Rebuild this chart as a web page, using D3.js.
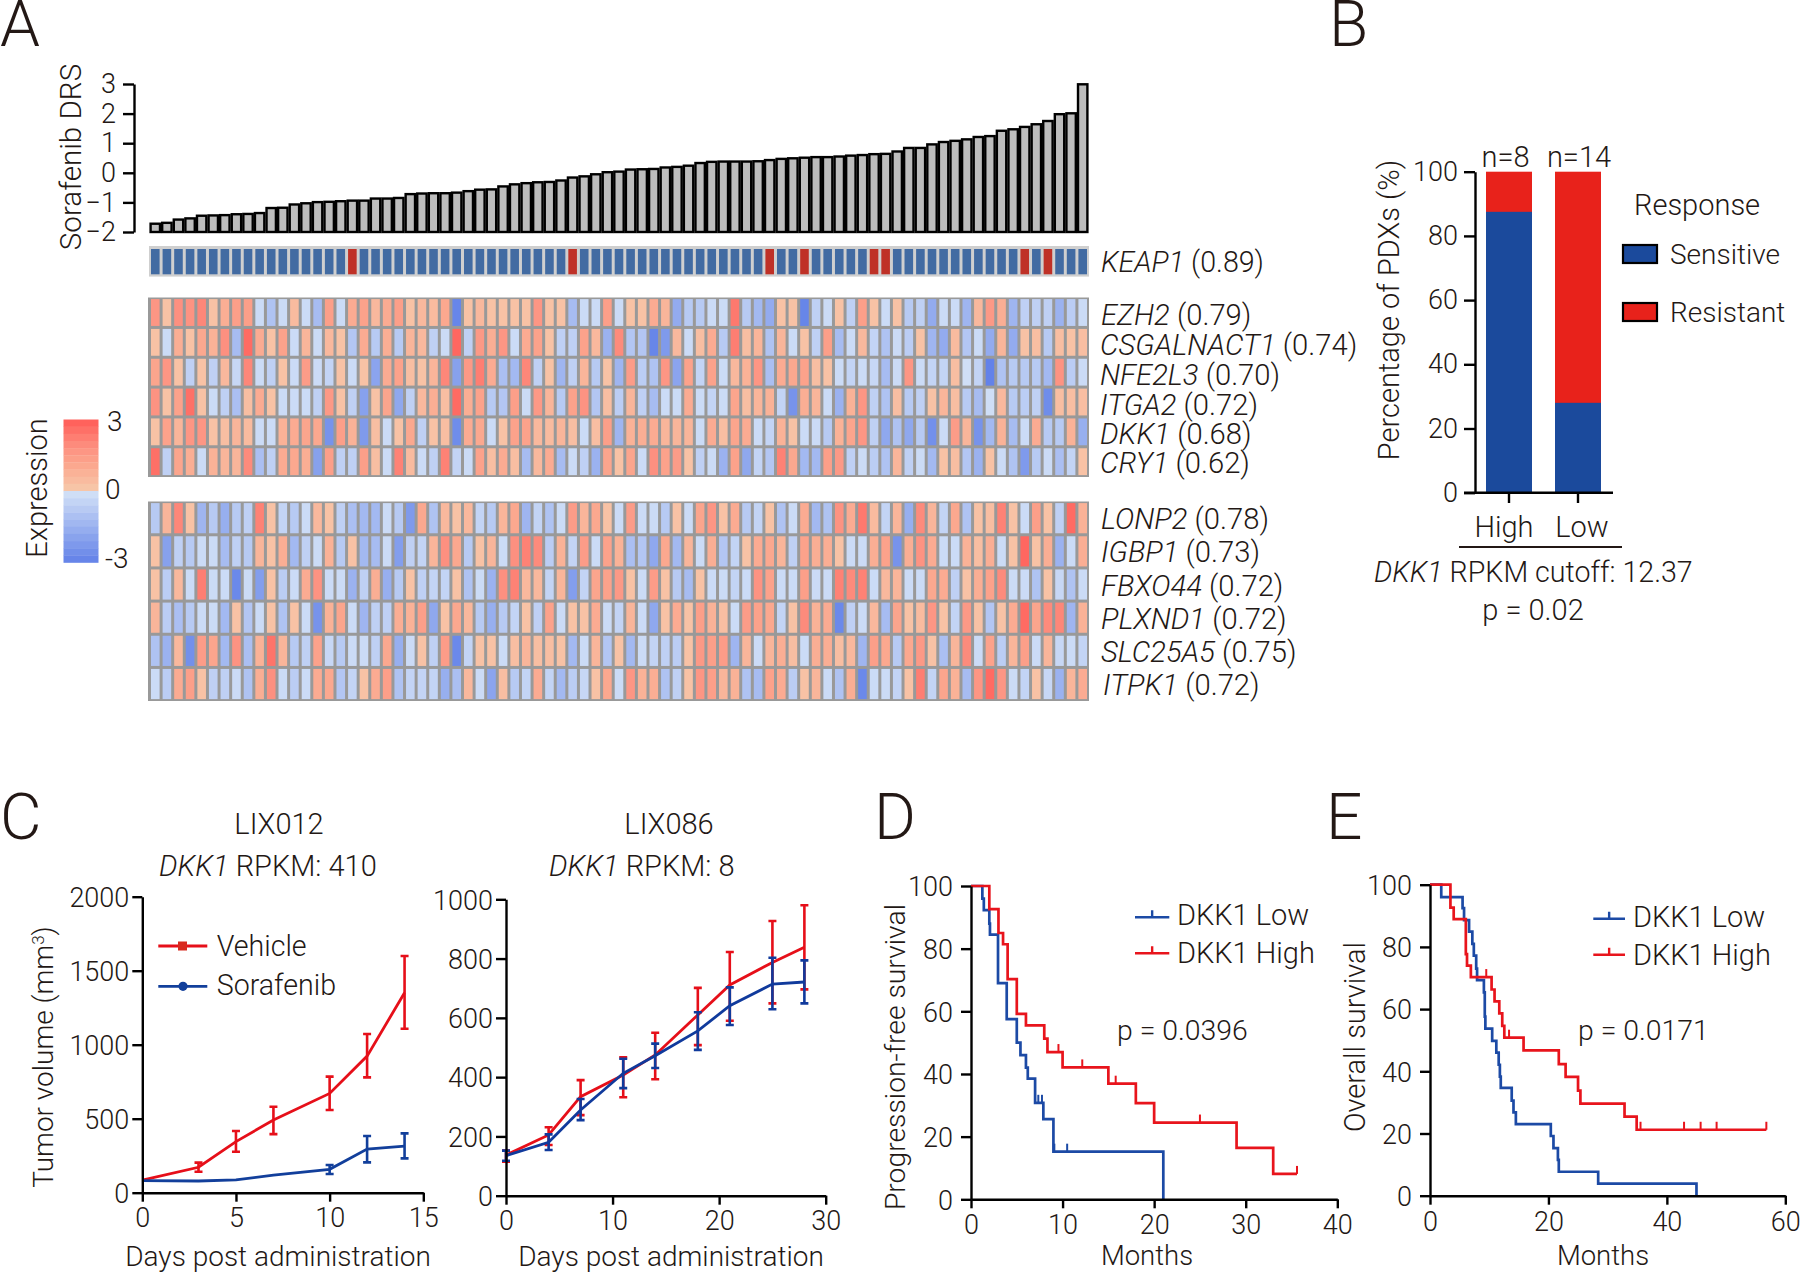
<!DOCTYPE html>
<html><head><meta charset="utf-8">
<script src="https://cdnjs.cloudflare.com/ajax/libs/d3/7.8.5/d3.min.js"></script>
<style>
html,body{margin:0;padding:0;background:#fff}
svg{display:block}
text{font-family:Roboto,"Liberation Sans",sans-serif;font-weight:300;fill:#231815}
</style></head><body>
<svg id="c" width="1800" height="1273"></svg>
<script>
// ---------- Panel A data ----------
const drs = [-1.72,-1.69,-1.58,-1.54,-1.45,-1.44,-1.43,-1.40,-1.39,-1.36,-1.19,-1.18,-1.07,-1.03,-.99,-.98,-.96,-.94,-.94,-.87,-.87,-.85,-.72,-.70,-.69,-.69,-.67,-.62,-.57,-.56,-.46,-.39,-.35,-.32,-.31,-.26,-.16,-.12,-.05,.02,.04,.11,.12,.13,.18,.20,.24,.33,.37,.38,.38,.38,.39,.43,.47,.49,.51,.53,.53,.55,.58,.60,.63,.64,.72,.84,.84,.96,1.04,1.08,1.13,1.21,1.24,1.42,1.47,1.55,1.64,1.75,1.98,2.01,2.99];
const keap1Mutated = [17,36,53,56,62,63,75,77];
const EZH2 = [1.8,.4,2,1.9,2.2,.4,1,1.5,1.5,-.3,-1,-.3,.6,-.3,-1.2,1.5,-.3,1.1,1.4,.7,1.1,1.5,.4,.7,.6,1.2,-2.8,.4,.7,.4,.4,.4,.4,1.8,.4,.4,-1.2,-.3,-.3,1.5,-.3,.4,.4,1.1,.8,-1.7,-.8,-.8,-.3,-.3,2.5,-.8,-1.3,-1.7,.4,.4,-2.8,-.6,-.3,.4,-.6,1.5,.4,-.3,.4,-.8,-.6,-1.7,-.3,-.3,-1.4,.7,1.7,1,-1.4,-.6,-.6,-.6,-1.5,-.7,-.3];
const CSGALNACT1 = [.4,-.3,1,.4,1.2,.9,2,-1.2,2.8,1.1,.4,1.4,-.3,.8,-.3,.7,.4,-.9,1.1,-.8,1,-.8,.8,.7,-.6,-.3,2.9,-.6,1.7,1,1.8,-.3,1.1,1.4,.4,-.6,-.6,1.4,.7,-1.5,2.1,-.9,-.9,-2.8,-2.2,.7,-.3,.5,1.1,-.8,2.4,.5,.8,-1,.8,-.3,.4,-.6,1.5,-1.2,-.3,.7,-.5,-1,-.3,-.7,.4,-1.4,-1.7,.6,-.9,-.3,-1.7,.8,-1.7,.4,.5,-.8,.5,.4,.5];
const NFE2L3 = [1.3,1.8,.4,-.6,.4,-.6,.7,-.4,2.2,-.3,-.6,.4,-.3,1.6,-.3,-.5,.4,-.3,.4,-1.9,1.1,1.4,.5,.4,.8,2.2,-2,1.7,2.4,1.1,-1.1,-1.3,2.2,-.6,.4,-1.4,-.6,.8,-.8,.4,-1.4,1.6,-.7,-1,1.8,-1.9,1.4,-.5,1.4,-.3,.7,.9,1.8,-1.1,1.1,1.2,1.4,.5,.4,-.3,-.5,-.3,-.4,-1.2,-.3,1.8,-.3,-.5,-.5,.5,-.2,-.5,-2.9,-1,-.8,-.8,-.8,-1.3,1.9,-.7,-.3];
const ITGA2 = [1.9,.4,1.4,2.7,.4,-.3,-.6,-1.1,.5,1.1,.4,-.3,-.3,-.3,-.6,1.7,.4,-.6,-2,.4,1.3,-1.8,-.6,.7,1,.5,2.8,1,1.4,-.8,-.9,1.5,-.3,1.7,.8,-.8,1.4,1.9,-.9,.5,-.7,.8,-.6,-1.2,-.3,-.3,1.1,-.3,-.5,-.3,1.3,.5,.8,.9,-.5,-2.4,1,.8,-.3,-1.5,.9,1.8,-.6,-1,.5,-.8,-.6,.4,.8,.5,-.8,-1.2,-.2,.7,-.8,-.7,-.6,-2.6,.5,.5,.5];
const DKK1 = [.4,1.4,.8,1.8,1.8,.4,.5,.8,.6,-.3,-.3,.9,1.1,1.3,1.2,-2.4,1.5,.9,-2.2,.5,-.3,.4,1.2,-.6,.4,.5,-2.6,1.1,1.2,-.3,.4,1.4,1.4,.7,.6,.8,.5,-.3,.5,1.5,-1.4,.9,1,1.1,.8,.8,.8,-.3,1.1,.5,1.3,1.1,-.3,-.5,.9,.4,-.3,-.3,-.8,.9,1.3,1.8,-.6,-1.8,-1,-1.8,-.8,-2.5,-.3,1.6,.8,-2.4,-1.3,.9,-1.2,-.3,1.1,-.8,-.8,.9,-1.6];
const CRY1 = [2.7,-.6,1.3,1,-.3,.9,.8,.8,2.1,-1.1,-.6,1.1,1.2,1,-2,1.5,-.6,-.6,1.5,.5,-.3,2.3,.6,-.3,-.6,2.3,-.5,-.3,1.4,.5,1.1,.5,-1.2,.7,1.1,-1.2,-.3,-.6,-1.5,1.3,.4,1.3,-.3,2,1.4,1.6,.4,-.6,-.3,-1.5,1.4,-1.8,-.5,-.9,2.3,1.2,-1.3,-1.3,1.5,1.7,-.6,-.3,-.7,-1,.8,-.6,-.3,-1.3,.4,.5,-.9,-1.5,.4,-.3,-1,-2.2,-.8,-.3,-1.1,-.5,.4];
const LONP2 = [-.8,.8,2.2,.4,-1.4,-.8,-1.6,-.8,-.6,2.3,.4,-.5,-.8,-.3,.7,.4,-.6,-1.1,-1.3,-1.3,-.3,-.8,-2.2,1.2,-1,.7,.4,.7,-.5,-.8,.8,1.2,-1.4,-.5,-1,-.3,1.6,.8,1.2,.4,-.3,1.6,-.3,-.3,-.8,.4,-.3,1.3,1.8,.4,1.1,-.8,-.5,.4,-1,-.3,1.1,-1.3,-1,1.9,1.1,2.5,.6,-.5,.8,-1.6,2.1,.8,-.5,1.2,-1,.4,.5,2.3,.4,-.3,1.5,.4,-.6,2.8,.9];
const IGBP1 = [.4,-2,-.6,-.8,-.3,-.3,-1.2,-.6,-.8,.8,.4,1,-1.3,-.6,-.3,.9,-.8,.4,-1.3,-1.2,-.3,-2.1,-.6,-.5,.8,2,1.2,-.8,.4,.8,-.3,2,2.3,2.1,-.7,.9,-.5,1.6,-.3,1.4,.9,-1.1,-.9,-1.8,1.2,-1.3,.8,-.3,1,-.9,-.5,.4,1.1,1.2,.8,-.6,1.4,1,1,.4,-.3,-.3,1,1.4,-2.4,1,1.9,1.1,-.3,-.3,.9,.5,1,-.3,.4,2.9,.4,1,-1.5,-.3,1];
const FBXO44 = [.4,-.7,.7,-.3,2.4,-.3,-.3,-2.7,-.3,-2.1,.4,-.7,-.3,1.1,1.9,-.3,-.3,-1.5,-.6,1,-1.6,-.8,.4,-.6,-.5,-.5,.4,-1,-.3,-1.5,2,2.3,.7,.7,-.5,.8,-2.1,-.5,1.3,1.4,1.7,.4,-.3,1.6,.4,-.8,-1.2,.4,-.3,-.3,-.5,-.3,1.9,1.4,-.3,-.3,1.5,-.3,-.3,2.3,2.1,2.3,-.3,.7,.8,-.3,-.3,1.2,1.1,-.6,.4,1,1.4,2.1,-.3,-.3,-1,.4,-.4,-1,-.3];
const PLXND1 = [.8,-.7,-1.1,-.8,-.3,-.3,-1.3,.4,-.9,-.3,.4,-1,.4,-.3,-2.4,.9,1.3,-.3,-1.4,-.6,-.6,1,.9,1.5,-1.8,.4,1.2,.7,-.8,-1.6,-.8,-.5,.4,-.6,1.4,-.3,.4,.4,1.1,-.3,-.5,.8,-.3,-1.8,.4,1.1,.4,1.5,.9,.5,-.3,1.6,1.4,1.2,-.5,.4,2.1,.9,1.1,-2.7,-.6,-.3,.7,-1.2,1.3,.4,.6,1.8,.4,-.5,1.7,.4,-.9,.4,1.1,2.8,1.3,2.1,2.2,-1.4,.9];
const SLC25A5 = [-1,-1.5,.7,-2.5,1.6,1.3,-1.3,1.9,-1.1,.9,2.6,.8,-.8,-.6,1.4,-.4,-.8,-.3,-.3,-.6,1.2,-1.6,-.3,.4,-.6,1.6,-2.7,-.5,.4,.4,-.3,.5,.8,.5,.5,.4,-1.3,-.3,.8,-.9,.4,-1.3,-.3,-.5,-.6,-.7,.4,1.7,1.5,1.6,-1.4,.8,-.3,.8,1,.5,-.3,1,1,.5,.7,-1.4,1.5,1.2,-.8,1.2,1.7,.4,-1.1,.8,2.1,-.3,1.4,-.7,.8,1.5,-.3,.8,-.4,-.3,-.5];
const ITPK1 = [-.3,-.7,1.1,1.5,.4,-.6,-.6,-.3,-1,1,2,-.3,-.7,-.3,1.1,1.2,-.9,-.5,.4,1.1,1.5,-1,-.5,-.5,-.5,-1.6,-1.1,.7,-.3,-1.9,.5,-.8,-.5,1.1,-.5,-1.3,-.7,-.4,.4,1.2,-.3,1.8,.9,1,-1,-.6,.4,1.8,1.5,.8,.9,-1,-1.2,1.4,1.1,-.7,.4,.8,-.3,-1,1,-2.7,-.3,-.3,-.5,.4,2.4,-.5,1.3,.9,-1.2,1.8,2.8,1.8,-.3,-.5,.4,-.4,-1.5,.8,1.1];
const upperGenes = [["EZH2",EZH2,"0.79"],["CSGALNACT1",CSGALNACT1,"0.74"],["NFE2L3",NFE2L3,"0.70"],["ITGA2",ITGA2,"0.72"],["DKK1",DKK1,"0.68"],["CRY1",CRY1,"0.62"]];
const lowerGenes = [["LONP2",LONP2,"0.78"],["IGBP1",IGBP1,"0.73"],["FBXO44",FBXO44,"0.72"],["PLXND1",PLXND1,"0.72"],["SLC25A5",SLC25A5,"0.75"],["ITPK1",ITPK1,"0.72"]];
// ---------- Panel B data ----------
const pdxGroups = ["High","Low"];
const pdxN = ["n=8","n=14"];
const pdxSensitive = [87.5,28];
// ---------- Panel C data ----------
const lix012Vehicle = [[0,85],[3,172,142,203],[5,345,277,417],[7,491,396,581],[10,671,559,784],[12,923,779,1072],[14,1351,1108,1599]];
const lix012Sorafenib = [[0,81],[3,79],[5,86],[7,119],[10,158,126,187],[12,295,205,383],[14,315,232,401]];
const lix086Vehicle = [[0,137,115,152],[4,205,171,231],[7,334,272,390],[11,407,332,467],[14,475,393,550],[18,610,508,701],[21,711,590,822],[25,787,649,927],[28,838,696,980]];
const lix086Sorafenib = [[0,135,118,152],[4,180,154,207],[7,289,255,326],[11,413,363,462],[14,472,431,513],[18,556,492,619],[21,641,576,703],[25,714,629,803],[28,721,649,794]];
// ---------- Panel D data ----------
const pfsLow = [[0,100],[1.24,96],[1.4,92.3],[2,88],[2.07,84.5],[2.95,69],[3.9,57.5],[5,50],[5.4,46],[6,42],[6.2,38.5],[7,30.8],[7.9,25.6],[9,15.2],[21,0],[21,0]];
const pfsHigh = [[0,100],[2,92.6],[3,85],[3.5,81.4],[4,70.3],[5,59.2],[6,55.5],[8,51.3],[8.35,47],[10,42.1],[15,36.9],[18,30.7],[20,24.5],[29,16.4],[33,8.1],[35.6,8.1]];
const pfsLowCensor = [[7.35,30.8],[7.75,30.8],[9.1,15.2],[10.5,15.2]];
const pfsHighCensor = [[9.55,47],[12.15,42.1],[15.8,36.9],[25,24.5],[35.6,8.1]];
// ---------- Panel E data ----------
const osLow = [[0,100],[1.9,96],[5.5,92.5],[5.75,88.6],[6.6,84.9],[7.15,81],[7.4,77.2],[7.8,73],[7.95,69.3],[9.1,65.4],[9.25,57.6],[9.35,53.7],[10.5,49.8],[11.2,46],[11.6,42.1],[11.8,38.3],[11.95,34.7],[13.8,30.6],[14.1,26.8],[14.5,23],[20.4,19.2],[20.85,15.3],[21.6,11.5],[21.75,7.7],[28.4,3.9],[45,0],[45,0]];
const osHigh = [[0,100],[3.45,92.6],[4,88.9],[6.05,77.7],[6.25,74],[6.9,70.3],[10.4,66.3],[10.9,62.5],[11.7,58.6],[12.2,54.6],[12.55,50.8],[15.8,46.7],[21.75,42.3],[22.9,38.2],[25,33.8],[25.4,29.6],[32.85,25.4],[34.9,21.2],[56.8,21.2]];
const osHighCensor = [[9.5,70.3],[13.35,50.8],[35.55,21.2],[42.9,21.2],[45.7,21.2],[48.4,21.2],[56.8,21.2]];

// ---------- Drawing ----------
const svg = d3.select("#c");
const FS = 29, TICK = 27, RED = "#e60f19", BLUE = "#123f9b", BLK = "#000";
function txt(x,y,s,o={}){
  const t = svg.append("text").attr("x",x).attr("y",y).attr("font-size",o.size||FS).text(s);
  if(o.anchor) t.attr("text-anchor",o.anchor);
  if(o.rot!==undefined) t.attr("transform",`rotate(${o.rot} ${x} ${y})`);
  return t;
}
function ital(x,y,it,rest,o={}){
  const t = svg.append("text").attr("x",x).attr("y",y).attr("font-size",o.size||FS);
  if(o.anchor) t.attr("text-anchor",o.anchor);
  t.append("tspan").attr("font-style","italic").text(it);
  t.append("tspan").text(rest);
  return t;
}
function styleAxis(g,fs){
  g.selectAll(".domain").attr("stroke",BLK).attr("stroke-width",2.4);
  g.selectAll(".tick line").attr("stroke",BLK).attr("stroke-width",2.4);
  g.selectAll("text").attr("font-size",fs||TICK).attr("fill","#231815");
}
function axes(xs,ys,xticks,yticks,xlen,ylen,pad){
  const [x0]=xs.range(), [y0]=ys.range();
  const gy = svg.append("g").attr("transform",`translate(${x0},0)`).call(d3.axisLeft(ys).tickValues(yticks).tickSize(ylen).tickSizeOuter(0).tickPadding(pad?pad[1]:3).tickFormat(d3.format("d")));
  const gx = svg.append("g").attr("transform",`translate(0,${y0})`).call(d3.axisBottom(xs).tickValues(xticks).tickSize(xlen).tickSizeOuter(0).tickPadding(pad?pad[0]:6).tickFormat(d3.format("d")));
  styleAxis(gy); styleAxis(gx);
  gy.selectAll(".tick text").attr("dy",".36em");
  return [gx,gy];
}

// Panel letters
[["A",0,46],["B",1329,46],["C",0,839],["D",874,839],["E",1326,839]].forEach(d=>txt(d[1],d[2],d[0],{size:64}));

// Panel A: bars
const nCols = drs.length;
const xA = d3.scaleBand().domain(d3.range(nCols)).range([149.5,1088.5]);
const yA = d3.scaleLinear().domain([-2,3]).range([232,84]);
svg.append("g").selectAll("rect").data(drs).join("rect")
  .attr("x",(d,i)=>xA(i)+1.1).attr("width",xA.bandwidth()-2.2)
  .attr("y",d=>yA(d)).attr("height",d=>yA(-2)-yA(d))
  .attr("fill","#bdbdbd").attr("stroke","#000").attr("stroke-width",2.4);
const gA = svg.append("g").attr("transform","translate(134,0)").call(d3.axisLeft(yA).tickValues([-2,-1,0,1,2,3]).tickSize(11).tickSizeOuter(0).tickPadding(7).tickFormat(d3.format("d")));
styleAxis(gA);
txt(81,157,"Sorafenib DRS",{rot:-90,anchor:"middle",size:29.6});

// KEAP1 strip
svg.append("rect").attr("x",149).attr("y",246).attr("width",940).attr("height",30.6).attr("fill","#cfcfcf");
svg.append("g").selectAll("rect").data(drs).join("rect")
  .attr("x",(d,i)=>xA(i)+1.5).attr("width",xA.bandwidth()-3).attr("y",249).attr("height",25.3)
  .attr("fill",(d,i)=>keap1Mutated.includes(i)?"#bf3127":"#426ba2");
ital(1101,272,"KEAP1"," (0.89)",{size:28.6});

// Heatmaps
const color = d3.scaleLinear().domain([-3,-.2,.2,1.2,2,3]).range(["#5f7fe8","#cfdef6","#f7c8aa","#fba88f","#fd9080","#ff625c"]);
function heat(genes,y0,y1,labelY,labelX){
  const yH = d3.scaleBand().domain(genes.map(g=>g[0])).range([y0,y1]);
  svg.append("rect").attr("x",148).attr("y",y0).attr("width",941).attr("height",y1-y0+.5).attr("fill","#999");
  genes.forEach((g,gi)=>{
    svg.append("g").selectAll("rect").data(g[1]).join("rect")
      .attr("x",(d,i)=>xA(i)+1.5).attr("width",xA.bandwidth()-3)
      .attr("y",yH(g[0])+1.6).attr("height",yH.bandwidth()-3)
      .attr("fill",d=>color(d));
    ital(labelX[gi]||1101,labelY[gi],g[0]," ("+g[2]+")",{size:29.2});
  });
}
heat(upperGenes,297.5,476.5,[325,355,385,415,444,473],[1101,1100,1100,1100,1100,1100]);
heat(lowerGenes,501.5,700.5,[529,562,596,629,662,695],[1101,1101,1101,1101,1101,1103]);

// Colour bar
const cbBands = d3.range(20);
const yCb = d3.scaleBand().domain(cbBands).range([419.5,562.5]);
svg.append("g").selectAll("rect").data(cbBands).join("rect")
  .attr("x",63.5).attr("width",35).attr("y",d=>yCb(d)).attr("height",yCb.bandwidth()+.3)
  .attr("fill",d=>color(d<10?3-d*.3:-.2-(d-10)*.29));
txt(107,431,"3",{size:28});txt(105,499,"0",{size:28});txt(105,568,"-3",{size:28});
txt(47,488,"Expression",{rot:-90,anchor:"middle"});

// Panel B
const xBpos = d3.scalePoint().domain(pdxGroups).range([1509,1578]);
const yB = d3.scaleLinear().domain([0,100]).range([492.7,171.7]);
svg.append("g").selectAll("rect").data(pdxGroups).join("rect").attr("x",d=>xBpos(d)-23).attr("width",46)
  .attr("y",yB(100)).attr("height",yB(0)-yB(100)).attr("fill","#e8221b");
svg.append("g").selectAll("rect").data(pdxGroups).join("rect").attr("x",d=>xBpos(d)-23).attr("width",46)
  .attr("y",(d,i)=>yB(pdxSensitive[i])).attr("height",(d,i)=>yB(0)-yB(pdxSensitive[i])).attr("fill","#1b4a9c");
const gBy = svg.append("g").attr("transform","translate(1475,0)").call(d3.axisLeft(yB).tickValues([0,20,40,60,80,100]).tickSize(11).tickSizeOuter(0).tickPadding(6));
styleAxis(gBy);
svg.append("path").attr("d","M1464,492.7H1613").attr("stroke",BLK).attr("stroke-width",2.4);
svg.append("g").selectAll("line").data(pdxGroups).join("line").attr("x1",d=>xBpos(d)).attr("x2",d=>xBpos(d)).attr("y1",492.7).attr("y2",503).attr("stroke",BLK).attr("stroke-width",2.4);
txt(1505.5,167,pdxN[0],{anchor:"middle"});txt(1579,167,pdxN[1],{anchor:"middle"});
txt(1504,537,"High",{anchor:"middle"});txt(1582,537,"Low",{anchor:"middle"});
svg.append("path").attr("d","M1459,547H1622").attr("stroke","#231815").attr("stroke-width",2);
ital(1374,582,"DKK1"," RPKM cutoff: 12.37",{size:28.6});
txt(1533,620,"p = 0.02",{anchor:"middle"});
txt(1399,310,"Percentage of PDXs (%)",{rot:-90,anchor:"middle"});
txt(1634,215,"Response");
[["Sensitive","#1b4a9c",244,264],["Resistant","#e8221b",302,322]].forEach(d=>{
  svg.append("rect").attr("x",1623).attr("y",d[2]+1).attr("width",34).attr("height",18).attr("fill",d[1]).attr("stroke","#000").attr("stroke-width",2.2);
  txt(1670,d[3],d[0],{size:28});
});

// Panel C
function growth(xs,ys,sets){
  sets.forEach(([data,col])=>{
    const line = d3.line().x(d=>xs(d[0])).y(d=>ys(d[1]));
    svg.append("path").attr("d",line(data)).attr("fill","none").attr("stroke",col).attr("stroke-width",2.8);
    const e = svg.append("g").attr("stroke",col).attr("stroke-width",2.6).attr("fill","none");
    data.filter(d=>d.length>2).forEach(d=>{
      const x=xs(d[0]);
      e.append("path").attr("d",`M${x},${ys(d[2])}V${ys(d[3])}M${x-4},${ys(d[2])}H${x+4}M${x-4},${ys(d[3])}H${x+4}`);
    });
  });
}
const xC1 = d3.scaleLinear().domain([0,15]).range([142.3,423.3]);
const yC1 = d3.scaleLinear().domain([0,2000]).range([1192.7,896.7]);
growth(xC1,yC1,[[lix012Vehicle,RED],[lix012Sorafenib,BLUE]]);
axes(xC1,yC1,[0,5,10,15],[0,500,1000,1500,2000],9,10,[6,3]);
txt(279,834,"LIX012",{anchor:"middle"});
ital(159,875.5,"DKK1"," RPKM: 410");
txt(278,1266,"Days post administration",{anchor:"middle",size:28});
const tv = txt(53,1057,"",{rot:-90,anchor:"middle",size:28});
tv.append("tspan").text("Tumor volume (mm");
tv.append("tspan").attr("font-size",17).attr("dy",-9).text("3");
tv.append("tspan").attr("dy",9).text(")");
svg.append("path").attr("d","M158.3,946H207.3").attr("stroke",RED).attr("stroke-width",2.8);
svg.append("rect").attr("x",178).attr("y",941.5).attr("width",9).attr("height",9).attr("fill","#d82a1e");
txt(216.7,955.5,"Vehicle",{size:28.6});
svg.append("path").attr("d","M158.3,986.3H207.3").attr("stroke",BLUE).attr("stroke-width",2.8);
svg.append("circle").attr("cx",183).attr("cy",986.3).attr("r",4.6).attr("fill",BLUE);
txt(216.7,994.5,"Sorafenib",{size:28.6});

const xC2 = d3.scaleLinear().domain([0,30]).range([506,825.7]);
const yC2 = d3.scaleLinear().domain([0,1000]).range([1195.7,899.3]);
growth(xC2,yC2,[[lix086Vehicle,RED],[lix086Sorafenib,"#103a9c"]]);
axes(xC2,yC2,[0,10,20,30],[0,200,400,600,800,1000],9,10,[6,3]);
txt(669,834,"LIX086",{anchor:"middle"});
ital(549,875.5,"DKK1"," RPKM: 8");
txt(671,1266,"Days post administration",{anchor:"middle",size:28});

// Panels D, E
function km(xs,ys,sets){
  sets.forEach(([data,cens,col])=>{
    svg.append("path").attr("d",d3.line().x(d=>xs(d[0])).y(d=>ys(d[1])).curve(d3.curveStepAfter)(data))
      .attr("fill","none").attr("stroke",col).attr("stroke-width",2.7);
    svg.append("g").selectAll("line").data(cens).join("line")
      .attr("x1",d=>xs(d[0])).attr("x2",d=>xs(d[0])).attr("y1",d=>ys(d[1])).attr("y2",d=>ys(d[1])-8)
      .attr("stroke",col).attr("stroke-width",2);
  });
}
function kmLegend(x1,x2,xl,y1,y2){
  [["DKK1 Low","#1c4aa5",y1,8],["DKK1 High","#e8141c",y2,10]].forEach(d=>{
    svg.append("path").attr("d",`M${x1},${d[2]}H${x2}M${(x1+x2)/2},${d[2]}v-7`).attr("stroke",d[1]).attr("stroke-width",2.4).attr("fill","none");
    txt(xl,d[2]+d[3],d[0]);
  });
}
const xD = d3.scaleLinear().domain([0,40]).range([971,1337.3]);
const yD = d3.scaleLinear().domain([0,100]).range([1199.3,886]);
km(xD,yD,[[pfsLow,pfsLowCensor,"#1c4aa5"],[pfsHigh,pfsHighCensor,"#e8141c"]]);
axes(xD,yD,[0,10,20,30,40],[0,20,40,60,80,100],9,10,[7,8]);
kmLegend(1135,1169.3,1177,917.3,953.3);
txt(1117,1040,"p = 0.0396",{size:28.4});
txt(905,1057,"Progression-free survival",{rot:-90,anchor:"middle",size:28.3});
txt(1147,1265,"Months",{anchor:"middle",size:27.5});

const xE = d3.scaleLinear().domain([0,60]).range([1430,1785.3]);
const yE = d3.scaleLinear().domain([0,100]).range([1195.7,884.7]);
km(xE,yE,[[osLow,[],"#1c4aa5"],[osHigh,osHighCensor,"#e8141c"]]);
axes(xE,yE,[0,20,40,60],[0,20,40,60,80,100],9,10,[7,8]);
kmLegend(1593.3,1625,1633,918.7,954.7);
txt(1578,1040,"p = 0.0171",{size:28.4});
txt(1365,1037,"Overall survival",{rot:-90,anchor:"middle"});
txt(1603,1265,"Months",{anchor:"middle",size:27.5});
</script>
</body></html>
